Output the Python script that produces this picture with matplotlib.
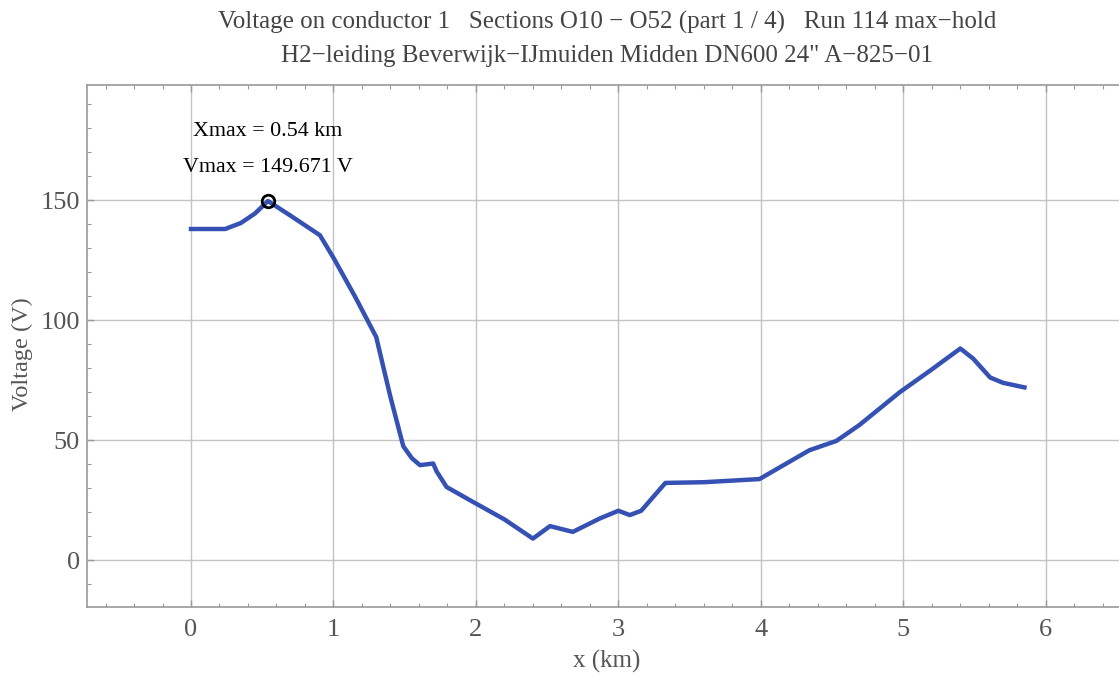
import matplotlib
matplotlib.use("Agg")
import matplotlib.pyplot as plt
from matplotlib.ticker import MultipleLocator

# Data
x_km = [0.0, 0.24, 0.35, 0.45, 0.54, 0.70, 0.905, 1.0, 1.15, 1.30, 1.40, 1.49, 1.55,
        1.607, 1.70, 1.724, 1.794, 1.958, 2.20, 2.40, 2.52, 2.68, 2.87, 3.0, 3.08,
        3.16, 3.33, 3.60, 3.99, 4.20, 4.34, 4.53, 4.69, 4.975, 5.20, 5.40, 5.49,
        5.61, 5.70, 5.85]
voltage = [138.0, 138.0, 140.5, 144.5, 149.671, 143.5, 135.4, 126.0, 110.0, 93.0,
           68.0, 47.5, 42.5, 39.6, 40.3, 37.0, 30.5, 25.0, 17.0, 9.0, 14.2, 11.8,
           17.4, 20.6, 18.8, 20.6, 32.2, 32.5, 33.8, 41.0, 45.8, 49.7, 56.25, 70.0,
           79.5, 88.2, 84.0, 76.1, 73.9, 72.0]
xmax_km = 0.54
vmax_v = 149.671

title_lines = ["Voltage on conductor 1   Sections O10 \u2212 O52 (part 1 / 4)   Run 114 max\u2212hold",
               "H2\u2212leiding Beverwijk\u2212IJmuiden Midden DN600 24\" A\u2212825\u221201"]
x_ticks = [0, 1, 2, 3, 4, 5, 6]
y_ticks = [0, 50, 100, 150]

plt.rcParams['font.family'] = ['Liberation Serif', 'DejaVu Serif']

W, H = 1119, 673
fig = plt.figure(figsize=(W / 100, H / 100), dpi=100)
left, right, top, bottom = 87, 1127, 85, 607
ax = fig.add_axes([left / W, 1 - bottom / H, (right - left) / W, (bottom - top) / H])

frame_col = '#9a9a9a'
grid_col = '#c4c4c4'
text_col = '#555555'

ax.plot(x_km, voltage, color='#3651b4', lw=3.2, solid_joinstyle='round', zorder=3)
ax.plot([xmax_km], [vmax_v], marker='o', ms=9, mfc='none', mec='black', mew=2.0, zorder=4)
ax.text(0.537, 178.8, "Xmax = 0.54 km", ha='center', va='center', fontsize=15.8, color='black')
ax.text(0.537, 163.8, "Vmax = %.3f V" % vmax_v, ha='center', va='center', fontsize=15.8, color='black')

ax.set_xlim(-0.73, 6.57)
ax.set_ylim(-19.5, 198)
ax.set_xticks(x_ticks)
ax.set_yticks(y_ticks)
ax.xaxis.set_minor_locator(MultipleLocator(0.2))
ax.yaxis.set_minor_locator(MultipleLocator(10))
ax.grid(True, which='major', color=grid_col, lw=1.0, zorder=1)
ax.tick_params(which='both', direction='in', top=True, right=False, colors=frame_col,
               labelcolor=text_col, labelsize=19)
ax.tick_params(which='major', length=5, width=1)
ax.tick_params(which='minor', length=3, width=0.8)
ax.tick_params(axis='x', pad=9)
ax.tick_params(axis='y', pad=5)
for side, sp in ax.spines.items():
    sp.set_color(frame_col)
    sp.set_linewidth(1.2)
ax.spines['right'].set_visible(False)

ax.set_xlabel("x (km)", fontsize=18, color=text_col)
ax.set_ylabel("Voltage (V)", fontsize=17.5, color=text_col)
ax.xaxis.set_label_coords((607 - 87) / 1040 , -(661 - 607) / 522, transform=ax.transAxes)
ax.xaxis.label.set_va('center')
ax.yaxis.set_label_coords(-(87 - 22) / 1040, 1 - (354 - 85) / 522, transform=ax.transAxes)
ax.yaxis.label.set_va('center')

fig.text(607 / W, 1 - 22 / H, title_lines[0], ha='center', va='center', fontsize=18, color='#444444')
fig.text(607 / W, 1 - 56 / H, title_lines[1], ha='center', va='center', fontsize=18, color='#444444')

fig.savefig("out.png", dpi=100)
